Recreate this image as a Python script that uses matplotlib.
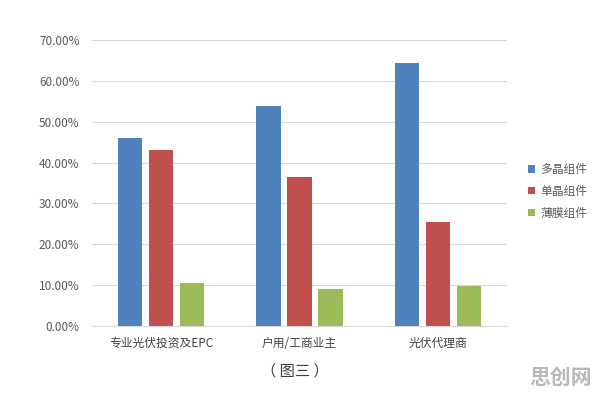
import matplotlib
matplotlib.use("Agg")
import matplotlib.pyplot as plt
import numpy as np
from matplotlib.ticker import FuncFormatter

plt.rcParams['font.family'] = ['Noto Sans CJK SC', 'DejaVu Sans']

categories = ["专业光伏投资及EPC", "户用/工商业主", "光伏代理商"]
series_names = ["多晶组件", "单晶组件", "薄膜组件"]
poly = [46.1, 53.8, 64.4]
mono = [43.0, 36.5, 25.4]
film = [10.6, 9.0, 9.9]
colors = ["#4F81BD", "#C0504D", "#9BBB59"]

fig = plt.figure(figsize=(5.96, 3.96), dpi=100)
ax = fig.add_axes([0.1544, 0.1768, 0.6963, 0.7222])

x = np.arange(len(categories))
w = 0.174
step = 0.224
for i, (vals, c, name) in enumerate(zip([poly, mono, film], colors, series_names)):
    ax.bar(x + (i - 1) * step, vals, width=w, color=c, label=name, zorder=3)

ax.set_xlim(-0.5, 2.5)
ax.set_ylim(0, 70)
ax.set_yticks(np.arange(0, 71, 10))
ax.yaxis.set_major_formatter(FuncFormatter(lambda v, p: f"{v:.2f}%"))
ax.grid(axis='y', color='#d9d9d9', linewidth=0.8, zorder=0)
for s in ['top', 'right', 'left']:
    ax.spines[s].set_visible(False)
ax.spines['bottom'].set_color('#d9d9d9')
ax.tick_params(axis='y', length=0, labelsize=8.5, colors='#595959', pad=9)
ax.tick_params(axis='x', length=0, labelsize=8.5, colors='#404040', pad=8)
ax.set_xticks(x)
ax.set_xticklabels(categories)

leg = ax.legend(loc='center left', bbox_to_anchor=(1.025, 0.47), frameon=False,
                fontsize=8.5, handlelength=0.55, handleheight=0.55, handletextpad=0.5,
                labelspacing=0.75, labelcolor='#595959')

fig.text(0.495, 1 - 371 / 396, "（ 图三 ）", ha='center', va='center', fontsize=11, color='#404040')
fig.text(0.941, 1 - 377 / 396, "思创网", ha='center', va='center', fontsize=15,
         fontweight='bold', color='#b8b8b8')

fig.savefig("out.png", dpi=100)
